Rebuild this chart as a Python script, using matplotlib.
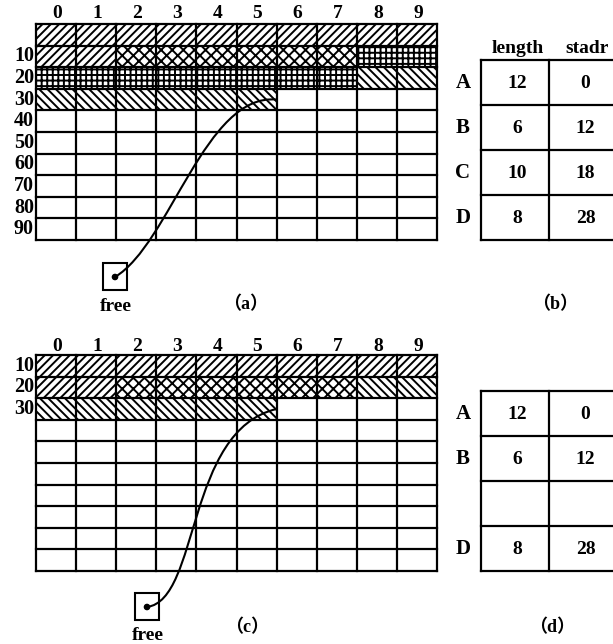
import matplotlib
matplotlib.use("Agg")
import matplotlib.pyplot as plt
from matplotlib.patches import Rectangle, PathPatch, Circle
from matplotlib.path import Path

# ---------------- DATA ----------------
COL_LABELS = ["0", "1", "2", "3", "4", "5", "6", "7", "8", "9"]
ROW_LABELS_A = ["", "10", "20", "30", "40", "50", "60", "70", "80", "90"]
ROW_LABELS_C = ["10", "20", "30", "", "", "", "", "", "", ""]

BLOCK_HATCH = ["////", "xxx", "+++", "\\\\\\\\"]
# first cell and number of cells of each block, as drawn
GRID_A_START = [0, 12, 18, 28]
GRID_A_LEN = [12, 6, 10, 8]
GRID_C_START = [0, 12, 0, 18]
GRID_C_LEN = [12, 6, 0, 8]
FREE_A = 36
FREE_C = 26

TABLE_HEADER = ["length", "stadr"]
NAMES_B = ["A", "B", "C", "D"]
LENGTH_B = ["12", "6", "10", "8"]
STADR_B = ["0", "12", "18", "28"]
NAMES_D = ["A", "B", "", "D"]
LENGTH_D = ["12", "6", "", "8"]
STADR_D = ["0", "12", "", "28"]
PANEL_LABELS = ["（a）", "（b）", "（c）", "（d）"]

# ---------------- LAYOUT ----------------
W, H = 613, 644
NCOL, NROW = 10, 10
CELL_W, CELL_H = 40.1, 21.6
GRID_X0 = 36
TAB_X = [481, 549, 618]
TAB_ROW_H = 45
FONT = ["Liberation Serif", "Noto Sans CJK SC", "DejaVu Serif"]
LW = 1.6

plt.rcParams["hatch.linewidth"] = 1.4
plt.rcParams["hatch.color"] = "black"

fig = plt.figure(figsize=(W / 100, H / 100), dpi=100)
ax = fig.add_axes([0, 0, 1, 1])
ax.set_xlim(0, W)
ax.set_ylim(H, 0)
ax.axis("off")


def txt(x, y, s, size=14, ha="center"):
    ax.text(x, y, s, ha=ha, va="center", fontsize=size, fontweight="bold",
            family=FONT)


def draw_grid(y0, starts, lengths, row_labels, col_label_y, free, ctrl):
    for start, n, h in zip(starts, lengths, BLOCK_HATCH):
        for k in range(start, start + n):
            r, c = divmod(k, NCOL)
            ax.add_patch(Rectangle((GRID_X0 + c * CELL_W, y0 + r * CELL_H),
                                   CELL_W, CELL_H, facecolor="white",
                                   edgecolor="black", lw=0, hatch=h))
    for i in range(NCOL + 1):
        x = GRID_X0 + i * CELL_W
        ax.plot([x, x], [y0, y0 + NROW * CELL_H], color="black", lw=LW,
                solid_capstyle="projecting")
    for j in range(NROW + 1):
        y = y0 + j * CELL_H
        ax.plot([GRID_X0, GRID_X0 + NCOL * CELL_W], [y, y], color="black",
                lw=LW, solid_capstyle="projecting")
    for i, lab in enumerate(COL_LABELS):
        txt(GRID_X0 + (i + 0.5) * CELL_W + 1, col_label_y, lab, size=14)
    for j, lab in enumerate(row_labels):
        if lab:
            txt(GRID_X0 - 2, y0 + (j + 0.5) * CELL_H, lab, size=14.5, ha="right")

    # free pointer: small box with a dot, curve to the first free cell
    (bx, by), p1, p2 = ctrl
    ax.add_patch(Rectangle((bx - 12, by - 14), 24, 27, facecolor="white",
                           edgecolor="black", lw=1.5))
    ax.add_patch(Circle((bx, by), 2.6, color="black"))
    txt(bx + 1, by + 29, "free", size=14)
    r, c = divmod(free, NCOL)
    end = (GRID_X0 + c * CELL_W, y0 + (r + 0.5) * CELL_H)
    verts = [(bx, by), (bx + p1[0], by + p1[1]),
             (end[0] + p2[0], end[1] + p2[1]), end]
    path = Path(verts, [Path.MOVETO, Path.CURVE4, Path.CURVE4, Path.CURVE4])
    ax.add_patch(PathPatch(path, facecolor="none", edgecolor="black", lw=1.5))


def draw_table(y0, names, lengths, stadrs, header):
    n = len(names)
    for j in range(n + 1):
        y = y0 + j * TAB_ROW_H
        ax.plot([TAB_X[0], TAB_X[-1]], [y, y], color="black", lw=LW,
                solid_capstyle="projecting")
    for x in TAB_X:
        ax.plot([x, x], [y0, y0 + n * TAB_ROW_H], color="black", lw=LW,
                solid_capstyle="projecting")
    for j in range(n):
        yc = y0 + (j + 0.5) * TAB_ROW_H + 1
        txt(463, yc - 1, names[j], size=15)
        txt((TAB_X[0] + TAB_X[1]) / 2 + 2, yc, lengths[j], size=14)
        txt((TAB_X[1] + TAB_X[2]) / 2 + 2, yc, stadrs[j], size=14)
    if header:
        txt((TAB_X[0] + TAB_X[1]) / 2 + 3, y0 - 12, header[0], size=14)
        txt((TAB_X[1] + TAB_X[2]) / 2 + 4, y0 - 12, header[1], size=14)


draw_grid(24, GRID_A_START, GRID_A_LEN, ROW_LABELS_A, 13, FREE_A,
          ((115, 277), (55, -33), (-71, -7)))
draw_grid(355, GRID_C_START, GRID_C_LEN, ROW_LABELS_C, 346, FREE_C,
          ((147, 607), (53, -7), (-91, 21)))
draw_table(60, NAMES_B, LENGTH_B, STADR_B, TABLE_HEADER)
draw_table(391, NAMES_D, LENGTH_D, STADR_D, None)

txt(246, 305, PANEL_LABELS[0], size=13)
txt(555, 305, PANEL_LABELS[1], size=13)
txt(247, 628, PANEL_LABELS[2], size=13)
txt(552, 628, PANEL_LABELS[3], size=13)

fig.savefig("out.png", dpi=100)
